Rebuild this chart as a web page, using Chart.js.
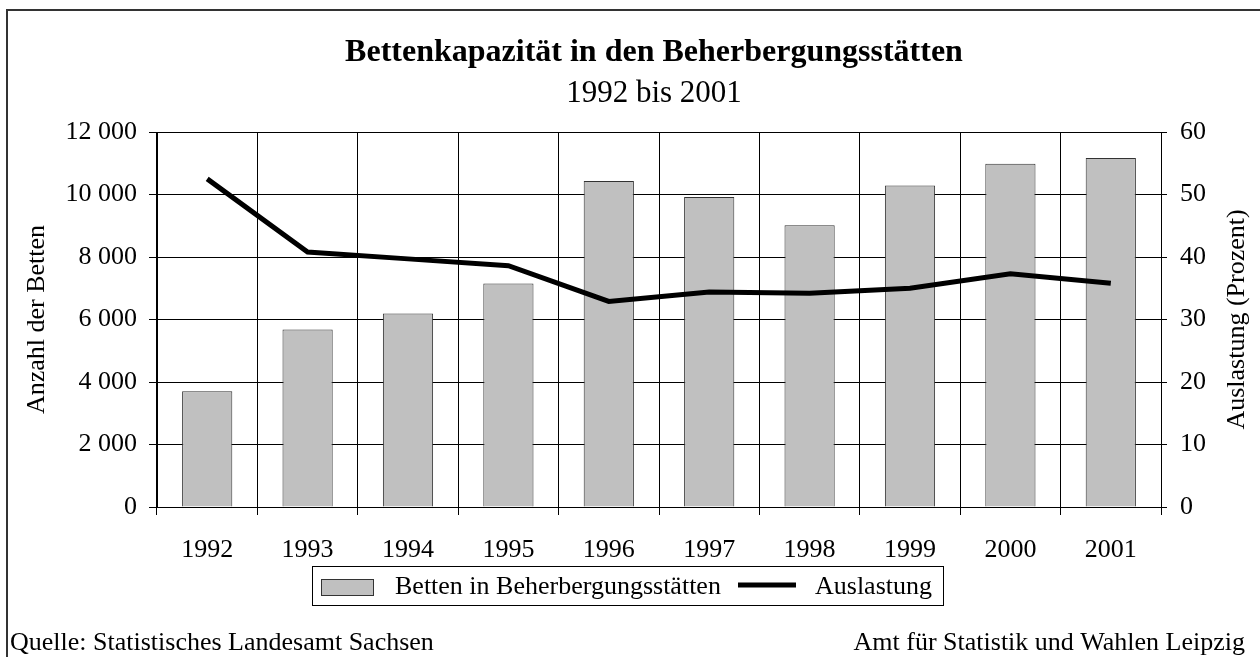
<!DOCTYPE html>
<html>
<head>
<meta charset="utf-8">
<title>Bettenkapazität in den Beherbergungsstätten</title>
<script src="https://cdn.jsdelivr.net/npm/chart.js@4.4.1/dist/chart.umd.min.js"></script>
<style>
  html, body { margin: 0; padding: 0; background: #fff; }
  #wrap { width: 1260px; height: 657px; }
</style>
</head>
<body>
<div id="wrap"><canvas id="chart-betten" width="1260" height="657"></canvas></div>
<script>
// Daten
const jahre = ['1992', '1993', '1994', '1995', '1996', '1997', '1998', '1999', '2000', '2001'];
const betten = [3705, 5680, 6190, 7150, 10430, 9920, 9020, 10290, 10985, 11170];
const auslastung = [52.5, 40.8, 39.7, 38.6, 32.9, 34.4, 34.2, 35.0, 37.3, 35.8];
const bettenTicks = [0, 2000, 4000, 6000, 8000, 10000, 12000];
const prozentTicks = [0, 10, 20, 30, 40, 50, 60];

const serif = "'Liberation Serif', 'Times New Roman', serif";
const tausender = (v) => String(v).replace(/\B(?=(\d{3})+(?!\d))/g, ' ');

// Titel, Legende, Quelle, Rahmen
const extras = {
  id: 'extras',
  afterDraw(chart) {
    const ctx = chart.ctx;
    const ca = chart.chartArea;
    ctx.save();

    // Rahmen (nur links/oben sichtbar)
    ctx.strokeStyle = '#333';
    ctx.lineWidth = 2;
    ctx.beginPath();
    ctx.moveTo(7, 657);
    ctx.lineTo(7, 10);
    ctx.lineTo(1260, 10);
    ctx.stroke();

    ctx.fillStyle = '#000';
    ctx.textAlign = 'center';
    ctx.textBaseline = 'alphabetic';
    ctx.font = 'bold 32px ' + serif;
    ctx.fillText('Bettenkapazität in den Beherbergungsstätten', 654, 61);
    ctx.font = '31px ' + serif;
    ctx.fillText('1992 bis 2001', 654, 102);

    // rechte Achsenbeschriftung (von unten nach oben)
    ctx.save();
    ctx.translate(1237, (ca.top + ca.bottom) / 2);
    ctx.rotate(-Math.PI / 2);
    ctx.font = '26px ' + serif;
    ctx.textBaseline = 'middle';
    ctx.fillText('Auslastung (Prozent)', 0, 0);
    ctx.restore();

    // Legende
    const ds = chart.data.datasets;
    ctx.lineWidth = 1;
    ctx.strokeStyle = '#000';
    ctx.strokeRect(312.5, 566.5, 631, 39);
    ctx.fillStyle = ds[1].backgroundColor;
    ctx.fillRect(321, 579, 52, 16);
    ctx.strokeStyle = ds[1].borderColor;
    ctx.strokeRect(321.5, 579.5, 52, 16);
    ctx.fillStyle = '#000';
    ctx.textAlign = 'left';
    ctx.textBaseline = 'middle';
    ctx.font = '26px ' + serif;
    ctx.fillText(ds[1].label, 395, 587);
    ctx.strokeStyle = ds[0].borderColor;
    ctx.lineWidth = ds[0].borderWidth;
    ctx.beginPath();
    ctx.moveTo(738, 585);
    ctx.lineTo(796, 585);
    ctx.stroke();
    ctx.fillText(ds[0].label, 815, 587);

    // Quelle
    ctx.font = '26px ' + serif;
    ctx.textBaseline = 'alphabetic';
    ctx.fillText('Quelle: Statistisches Landesamt Sachsen', 10, 650);
    ctx.textAlign = 'right';
    ctx.fillText('Amt für Statistik und Wahlen Leipzig', 1245, 650);
    ctx.restore();
  }
};

const ctx = document.getElementById('chart-betten').getContext('2d');
const chart = new Chart(ctx, {
  data: {
    labels: jahre,
    datasets: [
      {
        type: 'line',
        label: 'Auslastung',
        data: auslastung,
        yAxisID: 'yProzent',
        borderColor: '#000',
        borderWidth: 5,
        pointRadius: 0,
        tension: 0,
        order: 0
      },
      {
        type: 'bar',
        label: 'Betten in Beherbergungsstätten',
        data: betten,
        yAxisID: 'yBetten',
        backgroundColor: '#c0c0c0',
        borderColor: '#333',
        borderWidth: 1,
        barPercentage: 0.5,
        categoryPercentage: 1,
        order: 1
      }
    ]
  },
  options: {
    responsive: false,
    animation: false,
    devicePixelRatio: 1,
    layout: { padding: { top: 132, left: 18, right: 0, bottom: 90 } },
    plugins: {
      legend: { display: false },
      tooltip: { enabled: false }
    },
    scales: {
      x: {
        offset: true,
        grid: { color: '#000', lineWidth: 1, offset: true, tickLength: 8 },
        border: { color: '#000', width: 1 },
        ticks: { color: '#000', font: { family: serif, size: 26 }, padding: 20, maxRotation: 0 },
        afterFit: (s) => { s.height = 60; }
      },
      yBetten: {
        position: 'left',
        min: 0,
        max: 12000,
        afterBuildTicks: (s) => { s.ticks = bettenTicks.map(v => ({ value: v })); },
        grid: { color: '#000', lineWidth: 1, tickLength: 8 },
        border: { color: '#000', width: 1 },
        ticks: { color: '#000', font: { family: serif, size: 26 }, padding: 12, callback: (v) => tausender(v) },
        title: { display: true, text: 'Anzahl der Betten', color: '#000', font: { family: serif, size: 26 }, padding: 4 },
        afterFit: (s) => { s.width = 139; }
      },
      yProzent: {
        position: 'right',
        min: 0,
        max: 60,
        afterBuildTicks: (s) => { s.ticks = prozentTicks.map(v => ({ value: v })); },
        grid: { drawOnChartArea: false, color: '#000', tickLength: 6 },
        border: { color: '#000', width: 1 },
        ticks: { color: '#000', font: { family: serif, size: 26 }, padding: 13 },
        afterFit: (s) => { s.width = 99; }
      }
    }
  },
  plugins: [extras]
});
</script>
</body>
</html>
